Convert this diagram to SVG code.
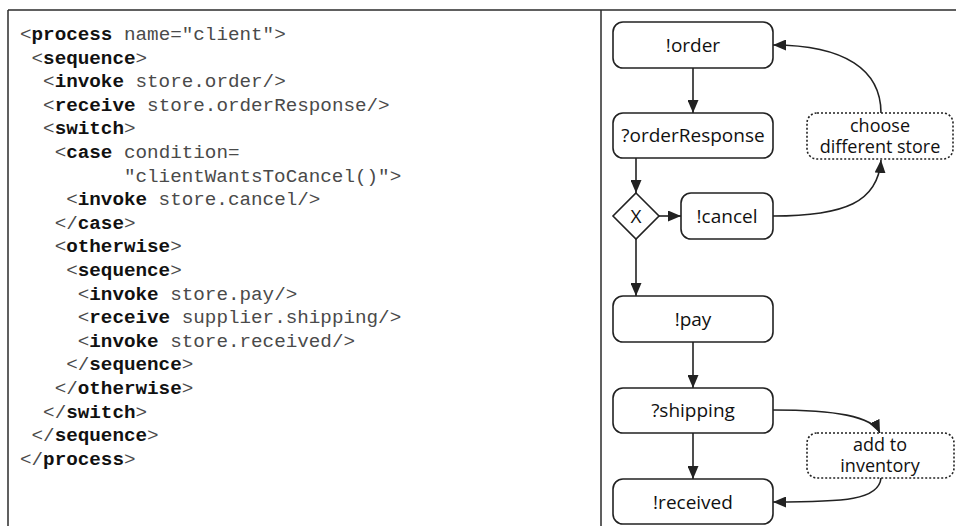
<svg xmlns="http://www.w3.org/2000/svg" width="956" height="526" viewBox="0 0 956 526">
<defs>
<style>
.frame{stroke:#2b2b2b;stroke-width:1.5;fill:none}
.code{font-family:"Liberation Mono","Courier New",monospace;font-size:19.25px;fill:#4a4a4a}
.code .k{font-weight:bold;fill:#111}
.box{fill:#fff;stroke:#222;stroke-width:1.6}
.dot{fill:#fff;stroke:#222;stroke-width:1.6;stroke-dasharray:2 2}
.lbl{font-family:"Open Sans","DejaVu Sans",sans-serif;font-size:19px;fill:#111;text-anchor:middle}
.lbl2{font-family:"Open Sans","DejaVu Sans",sans-serif;font-size:18px;fill:#111;text-anchor:middle}
.edge{fill:none;stroke:#222;stroke-width:1.6}
</style>
<marker id="ah" viewBox="0 0 13 11" refX="13" refY="5.5" markerWidth="13" markerHeight="11" markerUnits="userSpaceOnUse" orient="auto">
<path d="M0,0 L13,5.5 L0,11 z" fill="#222"/>
</marker>
</defs>
<g id="frame">
<line class="frame" x1="8" y1="10" x2="956" y2="10"/>
<line class="frame" x1="8" y1="10" x2="8" y2="526"/>
<line class="frame" x1="601" y1="10" x2="601" y2="526" stroke="#666"/>
</g>
<g id="code" class="code">
<text x="20" y="40">&lt;<tspan class="k">process</tspan> name="client"&gt;</text>
<text x="31.55" y="63.6">&lt;<tspan class="k">sequence</tspan>&gt;</text>
<text x="43.1" y="87.2">&lt;<tspan class="k">invoke</tspan> store.order/&gt;</text>
<text x="43.1" y="110.8">&lt;<tspan class="k">receive</tspan> store.orderResponse/&gt;</text>
<text x="43.1" y="134.4">&lt;<tspan class="k">switch</tspan>&gt;</text>
<text x="54.65" y="158">&lt;<tspan class="k">case</tspan> condition=</text>
<text x="123.95" y="181.6">"clientWantsToCancel()"&gt;</text>
<text x="66.2" y="205.2">&lt;<tspan class="k">invoke</tspan> store.cancel/&gt;</text>
<text x="54.65" y="228.8">&lt;/<tspan class="k">case</tspan>&gt;</text>
<text x="54.65" y="252.4">&lt;<tspan class="k">otherwise</tspan>&gt;</text>
<text x="66.2" y="276">&lt;<tspan class="k">sequence</tspan>&gt;</text>
<text x="77.75" y="299.6">&lt;<tspan class="k">invoke</tspan> store.pay/&gt;</text>
<text x="77.75" y="323.2">&lt;<tspan class="k">receive</tspan> supplier.shipping/&gt;</text>
<text x="77.75" y="346.8">&lt;<tspan class="k">invoke</tspan> store.received/&gt;</text>
<text x="66.2" y="370.4">&lt;/<tspan class="k">sequence</tspan>&gt;</text>
<text x="54.65" y="394">&lt;/<tspan class="k">otherwise</tspan>&gt;</text>
<text x="43.1" y="417.6">&lt;/<tspan class="k">switch</tspan>&gt;</text>
<text x="31.55" y="441.2">&lt;/<tspan class="k">sequence</tspan>&gt;</text>
<text x="20" y="464.8">&lt;/<tspan class="k">process</tspan>&gt;</text>
</g>
<g id="connectors">
<line class="edge" x1="693" y1="68" x2="693" y2="113" marker-end="url(#ah)"/>
<line class="edge" x1="636" y1="158" x2="636" y2="193" marker-end="url(#ah)"/>
<line class="edge" x1="659" y1="216" x2="681" y2="216" marker-end="url(#ah)"/>
<path class="edge" d="M773,216 C845,216 878,202 881,160" marker-end="url(#ah)"/>
<path class="edge" d="M881,113 C881,70 845,45 773,45" marker-end="url(#ah)"/>
<line class="edge" x1="636" y1="239" x2="636" y2="296" marker-end="url(#ah)"/>
<line class="edge" x1="693" y1="342" x2="693" y2="388" marker-end="url(#ah)"/>
<path class="edge" d="M773,410 C835,410 872,416 880,433" marker-end="url(#ah)"/>
<line class="edge" x1="693" y1="433" x2="693" y2="479" marker-end="url(#ah)"/>
<path class="edge" d="M881,478 C879,500 845,502 773,502" marker-end="url(#ah)"/>
</g>
<g id="n-order"><rect class="box" x="613" y="22" width="160" height="46" rx="10"/><text class="lbl" x="693" y="52">!order</text></g>
<g id="n-orderResponse"><rect class="box" x="613" y="113" width="160" height="45" rx="10"/><text class="lbl" x="693" y="142">?orderResponse</text></g>
<g id="n-choose"><rect class="dot" x="807" y="113" width="146" height="46" rx="10"/><text class="lbl2" x="880" y="132">choose</text><text class="lbl2" x="880" y="153">different store</text></g>
<g id="n-xor"><path class="box" d="M636,193 L659,216 L636,239 L613,216 z"/><text class="lbl" x="636" y="223">X</text></g>
<g id="n-cancel"><rect class="box" x="681" y="193" width="92" height="46" rx="10"/><text class="lbl" x="727" y="223">!cancel</text></g>
<g id="n-pay"><rect class="box" x="613" y="296" width="160" height="46" rx="10"/><text class="lbl" x="693" y="326">!pay</text></g>
<g id="n-shipping"><rect class="box" x="613" y="388" width="160" height="45" rx="10"/><text class="lbl" x="693" y="417">?shipping</text></g>
<g id="n-inventory"><rect class="dot" x="807" y="433" width="147" height="45" rx="10"/><text class="lbl2" x="880" y="451">add to</text><text class="lbl2" x="880" y="472">inventory</text></g>
<g id="n-received"><rect class="box" x="613" y="479" width="160" height="45" rx="10"/><text class="lbl" x="693" y="509">!received</text></g>
</svg>
